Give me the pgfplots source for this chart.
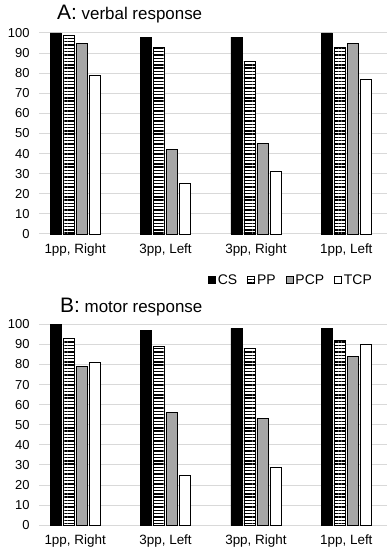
\documentclass[border=0pt]{standalone}
\usepackage{fontspec}
\setmainfont{Liberation Sans}
\usepackage{pgfplots}
\pgfplotsset{compat=1.18}
\usetikzlibrary{patterns.meta}
\definecolor{gridgray}{RGB}{217,217,217}
\definecolor{pcpgray}{RGB}{166,166,166}
\pgfplotsset{
  common/.style={
    scale only axis, width=348bp, height=201bp,
    ymin=0, ymax=100, xmin=-0.4, xmax=3.45,
    ybar=2bp, bar width=11bp, clip=false,
    axis line style={draw=none}, tick style={draw=none},
    ymajorgrids, grid style={gridgray, line width=1bp},
    ytick={0,10,...,100},
    xtick={0,1,2,3},
    xticklabels={{1pp, Right},{3pp, Left},{3pp, Right},{1pp, Left}},
    /pgf/number format/assume math mode=true,
    yticklabel style={font=\fontsize{13}{15}\selectfont, xshift=-6bp},
    xticklabel style={font=\fontsize{13.5}{16}\selectfont, yshift=-2bp},
    legend image code/.code={\draw[#1] (0bp,-3.5bp) rectangle (7bp,3.5bp);},
  },
  cs/.style={draw=black, fill=black, line width=0.8bp},
  pp/.style={draw=black, fill=white, line width=0.8bp, postaction={pattern={Lines[angle=0,distance=3.3bp,line width=1.4bp]}}},
  pcp/.style={draw=black, fill=pcpgray, line width=0.8bp},
  tcp/.style={draw=black, fill=white, line width=0.8bp},
}
\begin{document}
\begin{tikzpicture}
\path[use as bounding box] (0,0) rectangle (391bp,550bp);
\begin{axis}[common, at={(39bp,316bp)}, anchor=south west,
  legend style={at={(0.724,-0.229)}, anchor=center, draw=none, legend columns=4,
    font=\fontsize{14}{16}\selectfont, /tikz/every even column/.append style={column sep=8bp}}]
\addplot[cs] coordinates {(0,100) (1,98) (2,98) (3,100)};
\addplot[pp] coordinates {(0,99) (1,93) (2,86) (3,93)};
\addplot[pcp] coordinates {(0,95) (1,42) (2,45) (3,95)};
\addplot[tcp] coordinates {(0,79) (1,25) (2,31) (3,77)};
\legend{CS,PP,PCP,TCP}
\end{axis}
\begin{axis}[common, at={(39bp,24.7bp)}, anchor=south west]
\addplot[cs] coordinates {(0,100) (1,97) (2,98) (3,98)};
\addplot[pp] coordinates {(0,93) (1,89) (2,88) (3,92)};
\addplot[pcp] coordinates {(0,79) (1,56) (2,53) (3,84)};
\addplot[tcp] coordinates {(0,81) (1,25) (2,29) (3,90)};
\end{axis}
\node[anchor=base west, inner sep=0pt] at (57bp,530bp) {\fontsize{21}{25}\selectfont A:\fontsize{17}{20}\selectfont\ verbal response};
\node[anchor=base west, inner sep=0pt] at (60bp,237bp) {\fontsize{21}{25}\selectfont B:\fontsize{17}{20}\selectfont\ motor response};
\end{tikzpicture}
\end{document}
